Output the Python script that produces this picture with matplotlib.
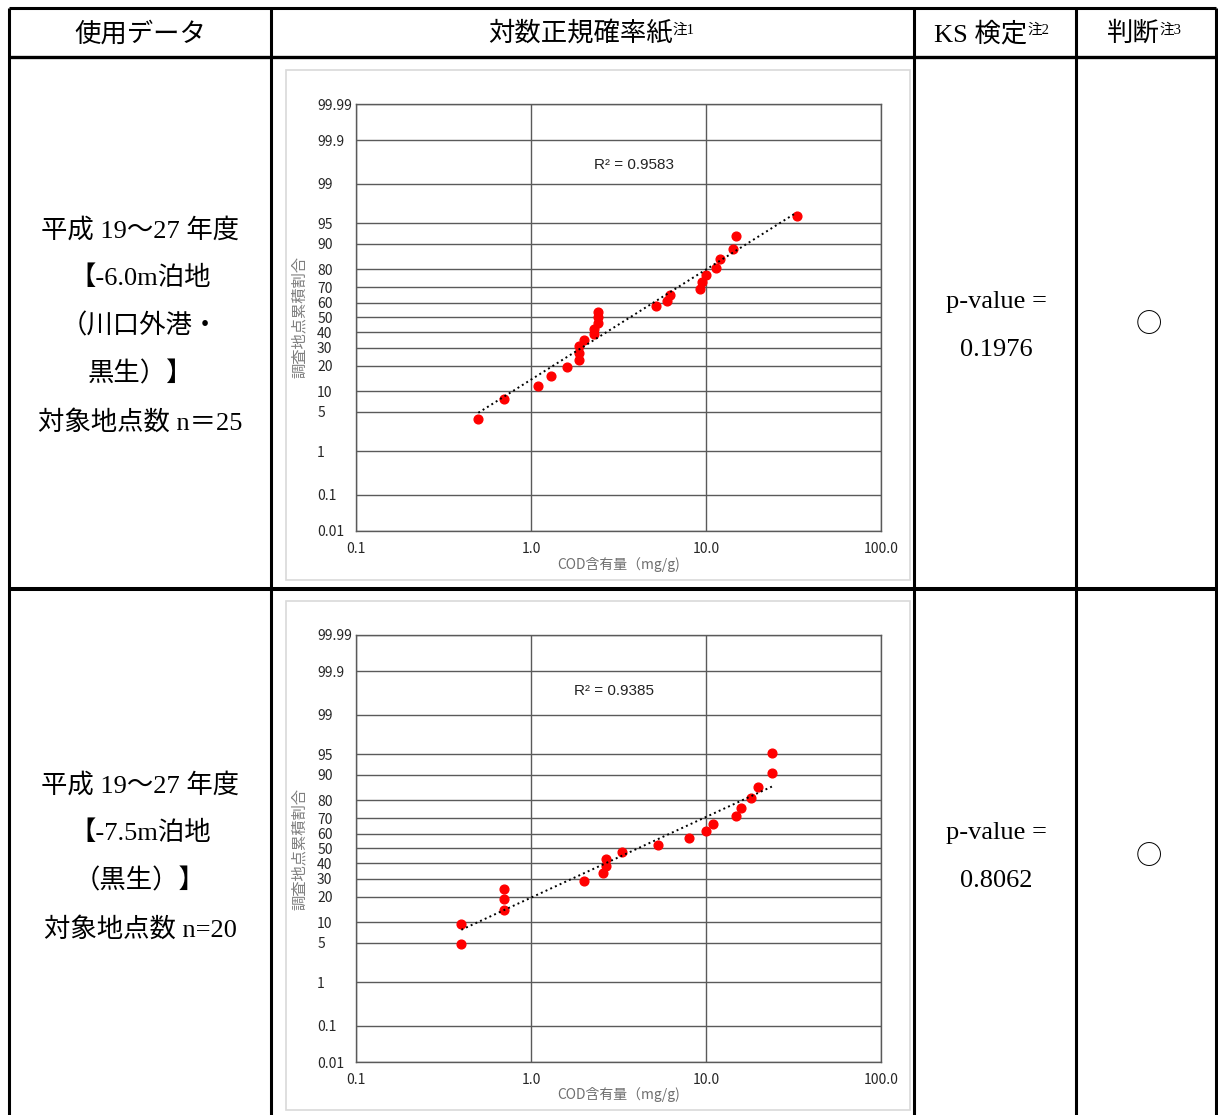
import matplotlib.pyplot as plt
import numpy as np
from matplotlib.patches import Rectangle
from matplotlib.ticker import NullLocator
from statistics import NormalDist

plt.rcParams['font.family'] = ['Noto Sans CJK JP', 'DejaVu Sans']

# COD content (mg/g) and cumulative share of survey points (%)
cod_60 = [0.50, 0.70, 1.10, 1.30, 1.60, 1.89, 1.89, 1.89, 2.01, 2.30, 2.30, 2.40, 2.40,
          2.40, 5.21, 5.97, 6.26, 9.28, 9.44, 10.0, 11.35, 11.95, 14.3, 14.8, 33.0]
pct_60 = [3.8, 7.7, 11.5, 15.4, 19.2, 23.1, 26.9, 30.8, 34.6, 38.5, 42.3, 46.2, 50.0,
          53.8, 57.7, 61.5, 65.4, 69.2, 73.1, 76.9, 80.8, 84.6, 88.5, 92.3, 96.2]
r2_60 = 'R² = 0.9583'

cod_75 = [0.40, 0.40, 0.70, 0.70, 0.70, 2.00, 2.59, 2.70, 2.70, 3.30, 5.30, 7.96,
          10.0, 10.96, 14.9, 15.95, 18.0, 19.9, 23.8, 23.8]
pct_75 = [4.8, 9.5, 14.3, 19.0, 23.8, 28.6, 33.3, 38.1, 42.9, 47.6, 52.4, 57.1,
          61.9, 66.7, 71.4, 76.2, 81.0, 85.7, 90.5, 95.2]
r2_75 = 'R² = 0.9385'

prob_ticks = [0.01, 0.1, 1, 5, 10, 20, 30, 40, 50, 60, 70, 80, 90, 95, 99, 99.9, 99.99]
prob_labels = ['0.01', '0.1', '1', '5', '10', '20', '30', '40', '50', '60', '70', '80',
               '90', '95', '99', '99.9', '99.99']
cod_ticks = [0.1, 1, 10, 100]
cod_labels = ['0.1', '1.0', '10.0', '100.0']

headers = ['使用データ', '対数正規確率紙', 'KS 検定', '判断']
header_notes = ['', '注1', '注2', '注3']
row_texts = [['平成 19～27 年度', '【-6.0m泊地', '（川口外港・', '黒生）】', '対象地点数 n＝25'],
             ['平成 19～27 年度', '【-7.5m泊地', '（黒生）】', '対象地点数 n=20']]
p_values = ['0.1976', '0.8062']
judge = ['○', '○']

nd = NormalDist()


def pct_to_z(p):
    p = np.clip(np.asarray(p, dtype=float), 1e-4, 100 - 1e-4)
    return np.vectorize(lambda v: nd.inv_cdf(v / 100), otypes=[float])(p)


def z_to_pct(z):
    return np.vectorize(lambda v: nd.cdf(v) * 100, otypes=[float])(np.asarray(z, dtype=float))


W, H = 1218, 1115
fig = plt.figure(figsize=(W / 100, H / 100), dpi=100)
serif_jp = ['Liberation Serif', 'Noto Sans CJK JP']

# table drawn in pixel coordinates on a full-figure axes
tab = fig.add_axes([0, 0, 1, 1])
tab.set_xlim(0, W)
tab.set_ylim(H, 0)
tab.axis('off')

for x in [9, 271, 914, 1076, 1216]:
    tab.plot([x, x], [8, H], color='black', lw=2.2, solid_capstyle='butt')
for y, w in [(8, 2.2), (57, 2.4), (589, 2.9)]:
    tab.plot([9, 1216], [y, y], color='black', lw=w, solid_capstyle='butt')

header_x = [140, 580, 981, 1133]
for x, t, note in zip(header_x, headers, header_notes):
    txt = tab.text(x, 34, t, ha='center', va='center', fontsize=19, family=serif_jp)
    if note:
        tab.annotate(note, xy=(1, 0.92), xycoords=txt, ha='left', va='top',
                     fontsize=10.5, family=serif_jp)

row_centers = [326, 857]
for c, lines, pv, j in zip(row_centers, row_texts, p_values, judge):
    top = c - 48 * (len(lines) - 1) / 2
    for k, line in enumerate(lines):
        tab.text(140, top + 48 * k, line, ha='center', va='center', fontsize=19, family=serif_jp)
    tab.text(996, c - 24, 'p-value =', ha='center', va='center', fontsize=19, family=serif_jp)
    tab.text(996, c + 24, pv, ha='center', va='center', fontsize=19, family=serif_jp)
    tab.text(1149, c - 1, j, ha='center', va='center', fontsize=19, family='Noto Sans CJK JP')


def prob_chart(box_px, rect_px, cod, pct, r2, r2_pos):
    l, t, r, b = box_px
    tab.add_patch(Rectangle((l, t), r - l, b - t, facecolor='white',
                            edgecolor='#d9d9d9', lw=1.2))
    l, t, r, b = rect_px
    ax = fig.add_axes([l / W, 1 - b / H, (r - l) / W, (b - t) / H])
    ax.set_xscale('log')
    ax.set_yscale('function', functions=(pct_to_z, z_to_pct))
    ax.set_xlim(0.1, 100)
    ax.set_ylim(0.01, 99.99)
    ax.set_xticks(cod_ticks, cod_labels)
    ax.xaxis.set_minor_locator(NullLocator())
    ax.set_yticks(prob_ticks, prob_labels)
    ax.yaxis.set_minor_locator(NullLocator())
    ax.tick_params(length=0, labelsize=10, labelcolor='#262626')
    ax.tick_params(axis='x', pad=8)
    ax.tick_params(axis='y', pad=28)
    plt.setp(ax.get_yticklabels(), ha='left')
    ax.grid(True, color='#5a5a5a', lw=1)
    for s in ax.spines.values():
        s.set_color('#5a5a5a')
        s.set_linewidth(1)

    ax.plot(cod, pct, 'o', color='red', ms=6.3, zorder=3)
    a, c = np.polyfit(np.log10(cod), pct_to_z(pct), 1)
    xs = np.array([min(cod), max(cod)])
    ax.plot(xs, z_to_pct(a * np.log10(xs) + c), ':', color='black', lw=1.4, zorder=4)

    ax.text(r2_pos[0], r2_pos[1], r2, transform=ax.transAxes, ha='center', va='center',
            fontsize=11, family='Liberation Sans', color='#222222')
    ax.set_xlabel('COD含有量（mg/g)', fontsize=10, color='#6f6f6f')
    ax.xaxis.set_label_coords(0.5, -33 / (b - t))
    ax.xaxis.label.set_va('center')
    ax.set_ylabel('調査地点累積割合', fontsize=11, color='#7f7f7f')
    ax.yaxis.set_label_coords(-57 / (r - l), 0.5)
    ax.yaxis.label.set_va('center')
    return ax


prob_chart((286, 70, 910, 580), (356, 104, 881, 531), cod_60, pct_60, r2_60, (0.53, 0.857))
prob_chart((286, 601, 910, 1110), (356, 635, 881, 1062), cod_75, pct_75, r2_75, (0.491, 0.868))

fig.savefig('out.png', dpi=100)
